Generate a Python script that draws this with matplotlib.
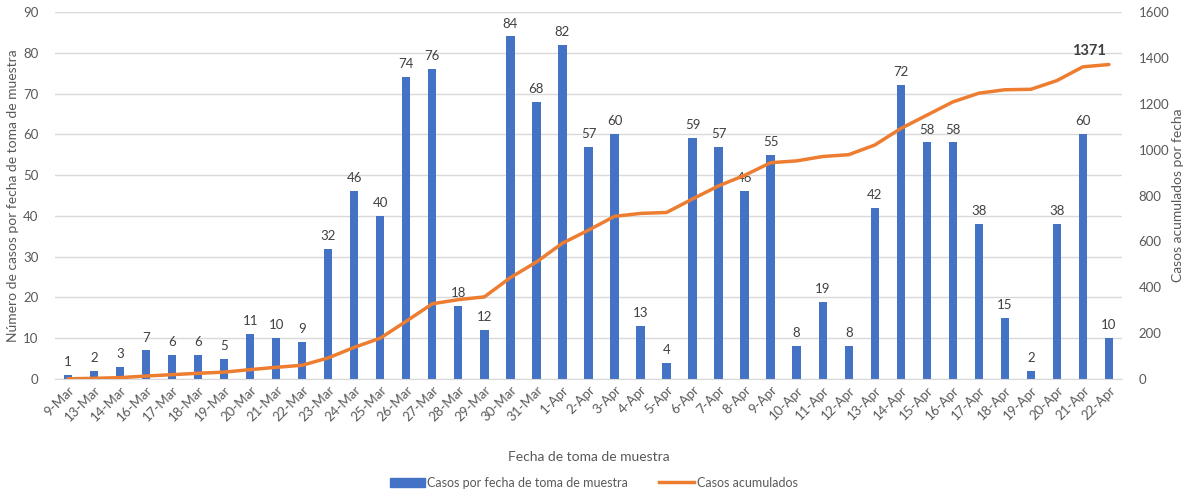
import numpy as np
import matplotlib.pyplot as plt
from matplotlib.lines import Line2D
from matplotlib.patches import Patch

fechas = ['9-Mar', '13-Mar', '14-Mar', '16-Mar', '17-Mar', '18-Mar', '19-Mar', '20-Mar',
          '21-Mar', '22-Mar', '23-Mar', '24-Mar', '25-Mar', '26-Mar', '27-Mar', '28-Mar',
          '29-Mar', '30-Mar', '31-Mar', '1-Apr', '2-Apr', '3-Apr', '4-Apr', '5-Apr',
          '6-Apr', '7-Apr', '8-Apr', '9-Apr', '10-Apr', '11-Apr', '12-Apr', '13-Apr',
          '14-Apr', '15-Apr', '16-Apr', '17-Apr', '18-Apr', '19-Apr', '20-Apr', '21-Apr',
          '22-Apr']
casos = [1, 2, 3, 7, 6, 6, 5, 11, 10, 9, 32, 46, 40, 74, 76, 18, 12, 84, 68, 82, 57, 60,
         13, 4, 59, 57, 46, 55, 8, 19, 8, 42, 72, 58, 58, 38, 15, 2, 38, 60, 10]
acumulados = [1, 3, 6, 13, 19, 25, 30, 41, 51, 60, 92, 138, 178, 252, 328, 346, 358, 442,
              510, 592, 649, 709, 722, 726, 785, 842, 888, 943, 951, 970, 978, 1020, 1092,
              1150, 1208, 1246, 1261, 1263, 1301, 1361, 1371]

plt.rcParams['font.family'] = ['Lato', 'DejaVu Sans']
gris = '#595959'
azul = '#4472C4'
naranja = '#ED7D31'

fig = plt.figure(figsize=(11.87, 4.9), dpi=100)
ax = fig.add_axes([0.0463, 0.2265, 0.8989, 0.749])
ax2 = ax.twinx()

x = np.arange(len(fechas))
ax.bar(x, casos, width=0.32, color=azul, zorder=2)
for xi, v in zip(x, casos):
    ax.annotate(str(v), (xi, v), xytext=(0, 5), textcoords='offset points',
                ha='center', va='bottom', fontsize=9.5, color='#404040')

ax2.plot(x, acumulados, color=naranja, lw=2.5, solid_capstyle='round', zorder=3)
ax2.annotate(str(acumulados[-1]), (x[-1], acumulados[-1]), xytext=(-2, 5),
             textcoords='offset points', ha='right', va='bottom', fontsize=10.5,
             fontweight='bold', color='#404040')

ax.set_xlim(-0.5, len(fechas) - 0.5)
ax.set_ylim(0, 90)
ax.set_yticks(range(0, 91, 10))
ax2.set_ylim(0, 1600)
ax2.set_yticks(range(0, 1601, 200))

ax.set_xticks(x)
ax.set_xticklabels(fechas, rotation=45, ha='right', rotation_mode='anchor')
ax.yaxis.grid(True, color='#D9D9D9', lw=1, zorder=0)
ax.set_axisbelow(True)

for a in (ax, ax2):
    for s in a.spines.values():
        s.set_visible(False)
    a.tick_params(length=0, colors=gris, labelsize=9.5)
ax.spines['bottom'].set_visible(True)
ax.spines['bottom'].set_color('#D9D9D9')
ax.tick_params(axis='y', pad=12)
ax2.tick_params(axis='y', pad=12)

ax.set_ylabel('Número de casos por fecha de toma de muestra', color=gris, fontsize=10,
              labelpad=3)
ax2.set_ylabel('Casos acumulados por fecha', color=gris, fontsize=10, labelpad=2)
ax.set_xlabel('Fecha de toma de muestra', color=gris, fontsize=10, labelpad=20)

handles = [Patch(color=azul), Line2D([0], [0], color=naranja, lw=2.5)]
fig.legend(handles, ['Casos por fecha de toma de muestra', 'Casos acumulados'],
           loc='lower center', bbox_to_anchor=(0.5, -0.02), ncol=2, frameon=False,
           fontsize=9, labelcolor=gris, handlelength=2.8, handletextpad=0.2,
           columnspacing=2.5)

plt.savefig('out.png')
